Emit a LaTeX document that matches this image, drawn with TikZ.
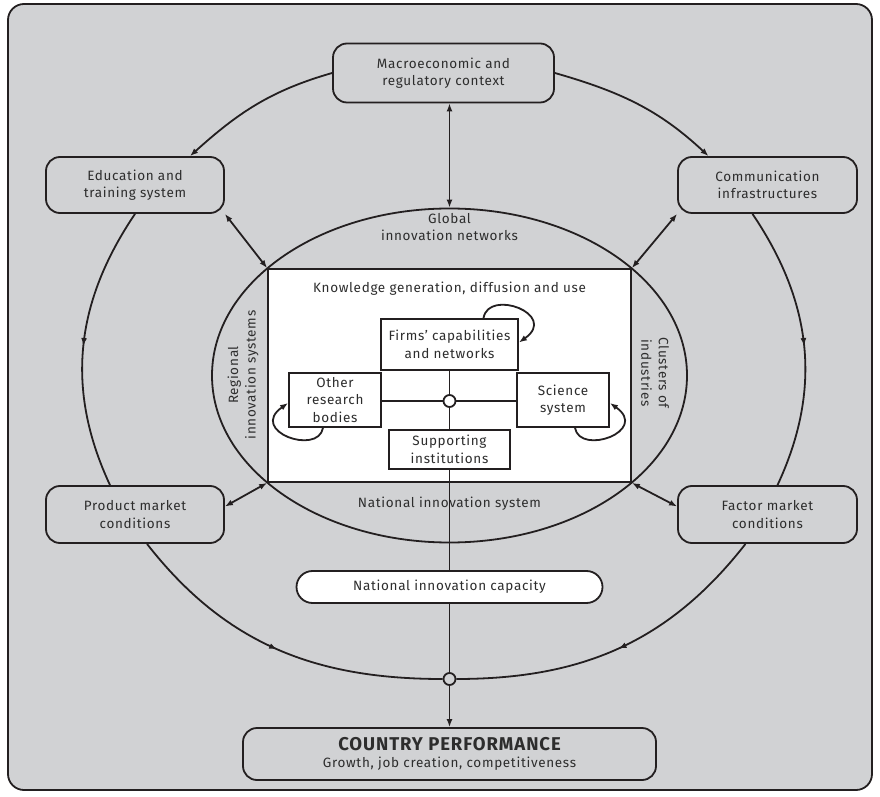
\documentclass[tikz,border=0pt]{standalone}
\usepackage{fontspec}
\setmainfont[LetterSpace=5]{Fira Sans}
\usepackage{tikz}
\usetikzlibrary{arrows.meta,shapes.geometric,decorations.markings,calc}

\definecolor{panelgray}{RGB}{209,210,212}
\definecolor{inkline}{RGB}{35,31,32}
\definecolor{inktext}{RGB}{45,45,45}

\tikzset{
  tri/.tip={Latex[length=8pt,width=6pt]},
  box/.style={draw=inkline, line width=1.8pt, rounded corners=14pt, fill=panelgray,
    align=center, text=inktext, inner sep=0pt, font=\fontsize{13.5}{17.5}\selectfont},
  sqbox/.style={draw=inkline, line width=1.8pt, fill=white,
    align=center, text=inktext, inner sep=0pt, font=\fontsize{13.5}{17.5}\selectfont},
  lbl/.style={text=inktext, align=center, inner sep=0pt, font=\fontsize{13.5}{17.5}\selectfont},
  midtri/.style={postaction={decorate},
    decoration={markings,mark=at position .5 with {\arrow{tri}}}}
}

\begin{document}
\begin{tikzpicture}[x=1pt,y=1pt,color=inkline,line width=1.8pt]
    \useasboundingbox (0,0) rectangle (880,796);
    \draw[fill=panelgray, rounded corners=16pt] (8,6) rectangle (872,792);

    % national innovation system
    \node[ellipse, draw, inner sep=0pt, minimum width=475, minimum height=334] (nis) at (449.5,420.5) {};
    \node[draw, fill=white, inner sep=0pt, minimum width=363, minimum height=213] (kgdu) at (449.5,420.5) {};

    \node[box, minimum width=221, minimum height=59] (macro) at (443.5,723) {Macroeconomic and\\regulatory context};
    \node[box, minimum width=178, minimum height=56] (edu) at (135,611) {Education and\\training system};
    \node[box, minimum width=179, minimum height=56] (comm) at (767.5,611) {Communication\\infrastructures};
    \node[box, minimum width=178, minimum height=57] (prod) at (135,281.5) {Product market\\conditions};
    \node[box, minimum width=179, minimum height=57] (fac) at (767.5,281.5) {Factor market\\conditions};

    \node[lbl] (global) at (449.5,569) {Global\\innovation networks};
    \node[lbl] (natsys) at (449.5,292) {National innovation system};
    \node[lbl, rotate=90] (regional) at (243,421) {Regional\\innovation systems};
    \node[lbl, rotate=-90] (clusters) at (655,423) {Clusters of\\industries};
    \node[lbl] (kgtitle) at (449.5,507) {Knowledge generation, diffusion and use};

    \node[sqbox, minimum width=137, minimum height=51] (firms) at (449.5,451.5) {Firms’ capabilities\\and networks};
    \node[sqbox, minimum width=92, minimum height=54] (other) at (335,396) {Other\\research\\bodies};
    \node[sqbox, minimum width=92, minimum height=54] (sci) at (563,396) {Science\\system};
    \node[sqbox, minimum width=121, minimum height=39] (sup) at (449.5,346.5) {Supporting\\institutions};
    \node[circle, draw, fill=white, inner sep=0pt, minimum size=12] (hub) at (449.5,395) {};

    \node[box, fill=white, rounded corners=16pt, minimum width=306, minimum height=32] (nic) at (449.5,209) {National innovation capacity};
    \node[circle, draw, fill=panelgray, inner sep=0pt, minimum size=12] (join) at (449.5,117) {};
    \node[box, minimum width=413, minimum height=52] (cp) at (449.5,42)
        {{\bfseries\fontsize{18.5}{21}\selectfont COUNTRY PERFORMANCE}\\Growth, job creation, competitiveness};

    % links to the system
    \draw[tri-tri] (nis.north |- macro.south) -- (nis.north);
    \draw[tri-tri] (edu.south east) -- (kgdu.north west);
    \draw[tri-tri] (comm.south west) -- (kgdu.north east);
    \draw[tri-tri] ([yshift=8pt]prod.east) -- (kgdu.south west);
    \draw[tri-tri] ([yshift=8pt]fac.west) -- (kgdu.south east);

    % outer loop
    \draw[-tri] (macro.west) to[out=196,in=42] ([xshift=55pt]edu.north);
    \draw[-tri] (macro.east) to[out=344,in=137] ([xshift=-59pt]comm.north);
    \draw[midtri] (edu.south) to[out=236,in=115] ([xshift=-25pt]prod.north);
    \draw[midtri] ([xshift=-15pt]comm.south) to[out=304,in=65] ([xshift=10pt]fac.north);
    \draw[midtri] ([xshift=12pt]prod.south) to[out=308,in=180] (join.west);
    \draw[midtri] ([xshift=-22pt]fac.south) to[out=232,in=0] (join.east);

    % inside
    \draw (hub.north) -- (firms.south);
    \draw (hub.south) -- (sup.north);
    \draw (hub.west) -- (hub.west -| other.east);
    \draw (hub.east) -- (hub.east -| sci.west);
    \draw[-tri] ([xshift=34pt]firms.north) .. controls +(5,30) and +(40,28) .. ([yshift=2pt]firms.east);
    \draw[-tri] ([xshift=-12pt]other.south) .. controls +(-5,-28) and +(-40,-28) .. ([yshift=-3pt]other.west);
    \draw[-tri] ([xshift=12pt]sci.south) .. controls +(5,-28) and +(40,-28) .. ([yshift=-3pt]sci.east);

    \draw (sup.south) -- (nic.north);
    \draw (nic.south) -- (join.north);
    \draw[-tri] (join.south) -- (cp.north);
\end{tikzpicture}
\end{document}
